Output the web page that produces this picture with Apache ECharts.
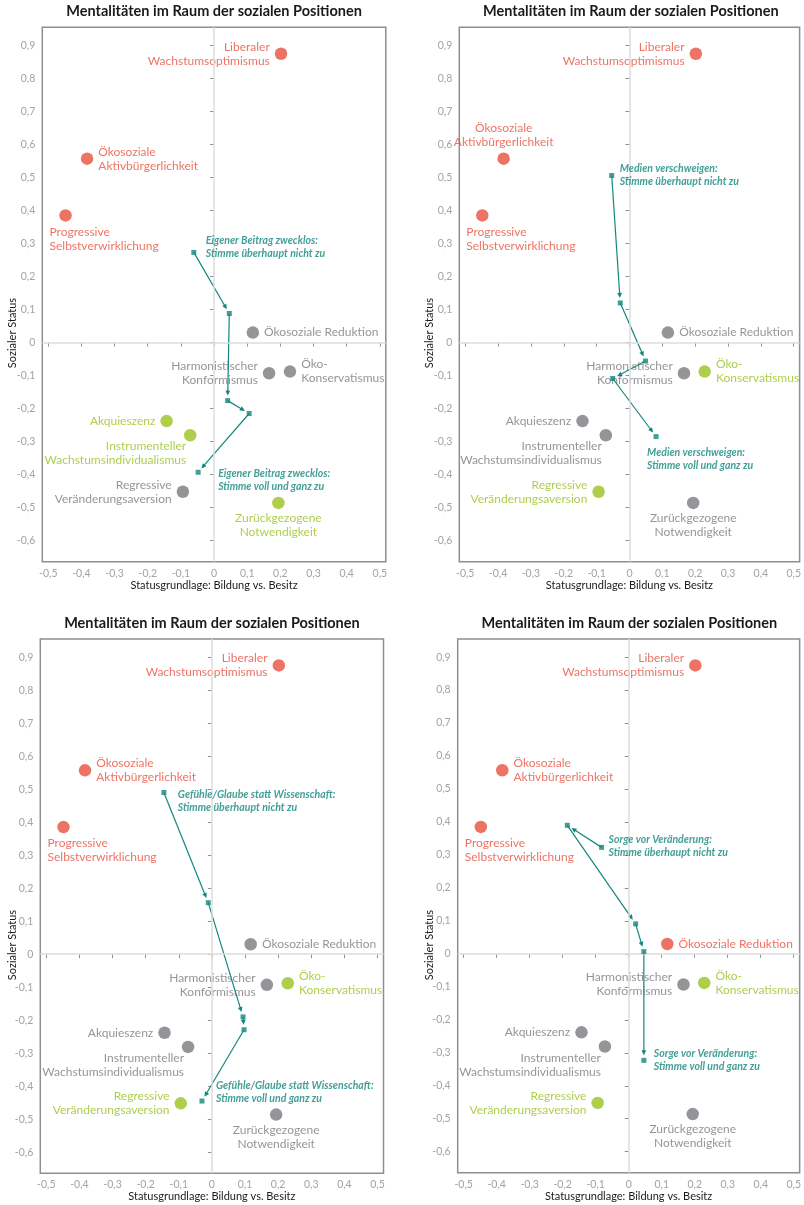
<!DOCTYPE html>
<html><head><meta charset="utf-8">
<script src="https://cdn.jsdelivr.net/npm/echarts@6/dist/echarts.min.js"></script>
<style>html,body{margin:0;padding:0;background:#fff}#c{width:804px;height:1205px}</style>
</head><body><div id="c"></div>
<script>
// ---------- data ----------
const chartTitle = 'Mentalitäten im Raum der sozialen Positionen';
const xAxisTitle = 'Statusgrundlage: Bildung vs. Besitz';
const yAxisTitle = 'Sozialer Status';
const xTicks = [-0.5,-0.4,-0.3,-0.2,-0.1,0,0.1,0.2,0.3,0.4,0.5];
const yTicks = [-0.6,-0.5,-0.4,-0.3,-0.2,-0.1,0,0.1,0.2,0.3,0.4,0.5,0.6,0.7,0.8,0.9];
const mentalities = [
  'Liberaler\nWachstumsoptimismus',
  'Ökosoziale\nAktivbürgerlichkeit',
  'Progressive\nSelbstverwirklichung',
  'Ökosoziale Reduktion',
  'Harmonistischer\nKonformismus',
  'Öko-\nKonservatismus',
  'Akquieszenz',
  'Instrumenteller\nWachstumsindividualismus',
  'Regressive\nVeränderungsaversion',
  'Zurückgezogene\nNotwendigkeit'
];
const mentX = [0.202,-0.383,-0.448,0.117,0.166,0.229,-0.143,-0.072,-0.094,0.194];
const mentY = [0.875,0.557,0.385,0.030,-0.093,-0.088,-0.238,-0.281,-0.452,-0.486];
// group per panel: r = red, k = grey, g = green
const panelGroups = [
  ['r','r','r','k','k','k','g','g','k','g'],
  ['r','r','r','k','k','g','k','k','g','k'],
  ['r','r','r','k','k','g','k','k','g','k'],
  ['r','r','r','r','k','g','k','k','g','k']
];
const pathTopics = ['Eigener Beitrag zwecklos','Medien verschweigen','Gefühle/Glaube statt Wissenschaft','Sorge vor Veränderung'];
const startAnswer = 'Stimme überhaupt nicht zu';
const endAnswer = 'Stimme voll und ganz zu';
const pathX = [
  [-0.061,0.046,0.041,0.106,-0.048],
  [-0.054,-0.028,0.049,-0.051,0.081],
  [-0.145,-0.011,0.094,0.097,-0.030],
  [-0.082,-0.186,0.021,0.046,0.046]
];
const pathY = [
  [0.273,0.088,-0.176,-0.215,-0.393],
  [0.506,0.120,-0.056,-0.109,-0.285],
  [0.490,0.156,-0.190,-0.229,-0.445],
  [0.323,0.390,0.091,0.007,-0.323]
];

// ---------- layout & style ----------
const FONT = 'Lato';
const COLORS = { r:'#E8503F', k:'#7A797E', g:'#9AC21F' };
const TEAL = '#13877E';
const grids = [
  {left:42.3, top:27.3, width:343.5, height:534.4},
  {left:459.3, top:27.3, width:343, height:534.4},
  {left:40.3, top:639, width:343.2, height:534.3},
  {left:457.7, top:639, width:343.2, height:533.8}
];
const titleTops = [4, 4, 616, 616];
const yNamePos = [[12,333],[429,333],[12,945],[429,945]];
const labelPlace = [
  ['L','R','BL','R','L','R','L','BR','L','B'],
  ['L','T','BL','R','L','R','L','BR','L','B'],
  ['L','R','BL','R','L','R','L','BR','L','B'],
  ['L','R','BL','R','L','R','L','BR','L','B']
];
const placeStyles = {
  L: {position:'left', distance:5},
  R: {position:'right', distance:5},
  T: {position:'top', distance:3},
  B: {position:'bottom', distance:2},
  BL: {position:'bottom', distance:3, align:'left', offset:[-16,0]},
  BR: {position:'bottom', distance:-2, align:'right', offset:[-4,0]}
};
const pathLabelOffsets = [
  [[12,-5],[20,8]],
  [[8,0],[-9,23]],
  [[14,9],[14,-9]],
  [[7,-1],[10,0]]
];

function fmt(v){ return Math.abs(v) < 1e-9 ? '0' : v.toFixed(1).replace('.', ','); }

function renderArrow(params, api){
  const a = api.coord([api.value(0), api.value(1)]);
  const b = api.coord([api.value(2), api.value(3)]);
  const dx = b[0]-a[0], dy = b[1]-a[1];
  const L = Math.hypot(dx, dy) || 1;
  const ux = dx/L, uy = dy/L;
  const gap = 5, head = 5, hw = 2.4;
  const tip = [b[0]-ux*gap, b[1]-uy*gap];
  const base = [tip[0]-ux*head, tip[1]-uy*head];
  return {type:'group', children:[
    {type:'line', shape:{x1:a[0], y1:a[1], x2:tip[0]-ux*2, y2:tip[1]-uy*2}, style:{stroke:TEAL, lineWidth:1.2}},
    {type:'polygon', shape:{points:[tip,[base[0]-uy*hw, base[1]+ux*hw],[base[0]+uy*hw, base[1]-ux*hw]]}, style:{fill:TEAL}}
  ]};
}

const option = {
  animation:false,
  backgroundColor:'#fff',
  textStyle:{fontFamily:FONT},
  title:[], grid:[], xAxis:[], yAxis:[], series:[], graphic:[]
};

grids.forEach((g, p) => {
  option.grid.push(Object.assign({show:true, borderColor:'#8f8f8f', borderWidth:1.5, backgroundColor:'transparent'}, g));
  option.title.push({
    text: chartTitle, left: g.left + g.width/2, top: titleTops[p], textAlign:'center', padding:0,
    textStyle:{fontFamily:FONT, fontSize:14.5, fontWeight:'bold', color:'#1a1a1a'}
  });
  option.xAxis.push({
    type:'value', gridIndex:p, min:-0.518, max:0.518,
    name: xAxisTitle, nameLocation:'middle', nameGap:18,
    nameTextStyle:{fontFamily:FONT, fontSize:11, color:'#1a1a1a'},
    axisLine:{show:false}, splitLine:{show:false},
    axisTick:{show:true, length:4, customValues:xTicks, lineStyle:{color:'#8f8f8f', width:1}},
    axisLabel:{customValues:xTicks, formatter:fmt, color:'#a3a3a3', fontSize:10.5, fontFamily:FONT, margin:6}
  });
  option.yAxis.push({
    type:'value', gridIndex:p, min:-0.664, max:0.955,
    axisLine:{show:false}, splitLine:{show:false},
    axisTick:{show:true, length:4, customValues:yTicks, lineStyle:{color:'#8f8f8f', width:1}},
    axisLabel:{customValues:yTicks, formatter:fmt, color:'#a3a3a3', fontSize:10.5, fontFamily:FONT, margin:7}
  });
  option.graphic.push({
    type:'text', x:yNamePos[p][0], y:yNamePos[p][1], rotation:Math.PI/2,
    style:{text:yAxisTitle, fill:'#1a1a1a', font:'11px '+FONT, textAlign:'center', textVerticalAlign:'middle'}
  });
  // zero lines
  option.series.push({
    type:'scatter', xAxisIndex:p, yAxisIndex:p, data:[], z:1, silent:true,
    markLine:{silent:true, symbol:'none', label:{show:false}, animation:false,
      lineStyle:{color:'#dcdcdc', width:1.5, type:'solid'},
      data:[{xAxis:0},{yAxis:0}]}
  });
  // mentalities
  option.series.push({
    type:'scatter', xAxisIndex:p, yAxisIndex:p, z:3, symbolSize:12.5,
    data: mentalities.map((name, i) => {
      const c = COLORS[panelGroups[p][i]];
      return {
        value:[mentX[i], mentY[i]],
        itemStyle:{color:c},
        label: Object.assign({show:true, formatter:name, color:c, fontSize:12, lineHeight:14, fontFamily:FONT}, placeStyles[labelPlace[p][i]])
      };
    })
  });
  // arrows
  const segs = [];
  for (let k = 0; k < pathX[p].length - 1; k++) segs.push([pathX[p][k], pathY[p][k], pathX[p][k+1], pathY[p][k+1]]);
  option.series.push({
    type:'custom', xAxisIndex:p, yAxisIndex:p, z:4, clip:false,
    encode:{x:[0,2], y:[1,3]}, renderItem:renderArrow, data:segs
  });
  // path squares + labels
  const n = pathX[p].length;
  option.series.push({
    type:'scatter', xAxisIndex:p, yAxisIndex:p, z:5, symbol:'rect', symbolSize:5,
    itemStyle:{color:TEAL},
    data: pathX[p].map((x, k) => {
      const d = {value:[x, pathY[p][k]]};
      if (k === 0 || k === n-1) {
        const off = pathLabelOffsets[p][k === 0 ? 0 : 1];
        d.label = {show:true, position:'right', distance:0, offset:[off[0]-2.5, off[1]],
          formatter: pathTopics[p] + ':\n' + (k === 0 ? startAnswer : endAnswer),
          color:TEAL, fontStyle:'italic', fontWeight:'bold', fontSize:10.5, lineHeight:13, fontFamily:FONT, align:'left'};
      }
      return d;
    })
  });
});

const chart = echarts.init(document.getElementById('c'), null, {renderer:'canvas'});
chart.setOption(option);
</script>
</body></html>
